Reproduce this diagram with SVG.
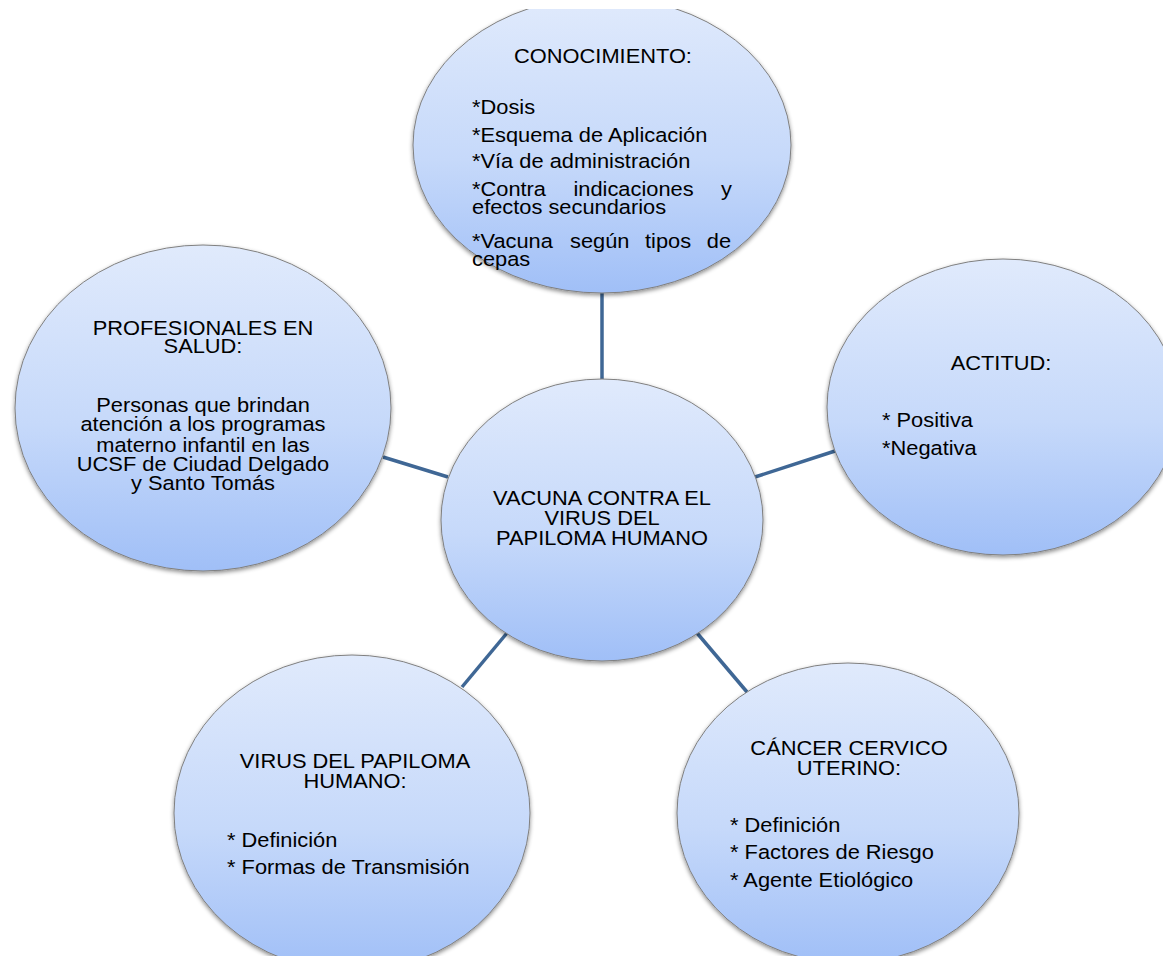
<svg xmlns="http://www.w3.org/2000/svg" width="1163" height="956" viewBox="0 0 1163 956">
  <defs>
    <linearGradient id="fillGrad" x1="0" y1="0" x2="0" y2="1">
      <stop offset="0" stop-color="#e0eafc"/>
      <stop offset="0.55" stop-color="#c6d9fa"/>
      <stop offset="1" stop-color="#a0bff7"/>
    </linearGradient>
    <filter id="shadow" x="-10%" y="-10%" width="120%" height="125%">
      <feDropShadow dx="0" dy="2" stdDeviation="2" flood-color="#000" flood-opacity="0.45"/>
    </filter>
    <clipPath id="topClip">
      <rect x="0" y="9" width="1163" height="947"/>
    </clipPath>
  </defs>
  <style>
    .bubble { fill: url(#fillGrad); stroke: #808080; stroke-width: 1; filter: url(#shadow); }
    .conn { stroke: #3f6795; stroke-width: 3.5; fill: none; stroke-linecap: butt; }
    text { font-family: "Liberation Sans", Arial, sans-serif; font-size: 19.5px; fill: #000; }
    .c { text-anchor: middle; }
  </style>
  <rect width="1163" height="956" fill="#ffffff"/>

  <g id="connectors">
    <line class="conn" x1="602" y1="292" x2="602" y2="380"/>
    <line class="conn" x1="383" y1="457" x2="448" y2="477"/>
    <line class="conn" x1="755" y1="477" x2="835" y2="451"/>
    <line class="conn" x1="507" y1="633" x2="462" y2="687"/>
    <line class="conn" x1="697" y1="633" x2="747" y2="692"/>
  </g>

  <g id="node-conocimiento">
    <g clip-path="url(#topClip)">
      <ellipse class="bubble" cx="602" cy="145" rx="189" ry="148"/>
    </g>
    <text class="c" transform="translate(603 63) scale(1.12 1)">CONOCIMIENTO:</text>
    <text transform="translate(472 114) scale(1.12 1)">*Dosis</text>
    <text transform="translate(472 142) scale(1.12 1)">*Esquema de Aplicación</text>
    <text transform="translate(472 168) scale(1.12 1)">*Vía de administración</text>
    <text transform="translate(472 196) scale(1.12 1)"><tspan x="0">*Contra</tspan><tspan x="90.6">indicaciones</tspan><tspan x="232.1" text-anchor="end">y</tspan></text>
    <text transform="translate(472 214) scale(1.12 1)">efectos secundarios</text>
    <text transform="translate(472 248) scale(1.12 1)"><tspan x="0">*Vacuna</tspan><tspan x="87.5">según</tspan><tspan x="154.5">tipos</tspan><tspan x="231.3" text-anchor="end">de</tspan></text>
    <text transform="translate(472 266) scale(1.12 1)">cepas</text>
  </g>

  <g id="node-profesionales">
    <ellipse class="bubble" cx="203" cy="408" rx="188" ry="163"/>
    <text class="c" transform="translate(203 335) scale(1.12 1)">PROFESIONALES EN</text>
    <text class="c" transform="translate(203 353) scale(1.12 1)">SALUD:</text>
    <text class="c" transform="translate(203 412) scale(1.12 1)">Personas que brindan</text>
    <text class="c" transform="translate(203 431) scale(1.12 1)">atención a los programas</text>
    <text class="c" transform="translate(203 452) scale(1.12 1)">materno infantil en las</text>
    <text class="c" transform="translate(203 471) scale(1.12 1)">UCSF de Ciudad Delgado</text>
    <text class="c" transform="translate(203 490) scale(1.12 1)">y Santo Tomás</text>
  </g>

  <g id="node-actitud">
    <ellipse class="bubble" cx="1003" cy="407" rx="176" ry="148"/>
    <text class="c" transform="translate(1001 370) scale(1.12 1)">ACTITUD:</text>
    <text transform="translate(882 427) scale(1.12 1)">* Positiva</text>
    <text transform="translate(882 455) scale(1.12 1)">*Negativa</text>
  </g>

  <g id="node-vacuna">
    <ellipse class="bubble" cx="602" cy="520" rx="161" ry="141"/>
    <text class="c" transform="translate(602 505) scale(1.12 1)">VACUNA CONTRA EL</text>
    <text class="c" transform="translate(602 525) scale(1.12 1)">VIRUS DEL</text>
    <text class="c" transform="translate(602 545) scale(1.12 1)">PAPILOMA HUMANO</text>
  </g>

  <g id="node-virus">
    <ellipse class="bubble" cx="352" cy="813" rx="178" ry="158"/>
    <text class="c" transform="translate(355 768) scale(1.12 1)">VIRUS DEL PAPILOMA</text>
    <text class="c" transform="translate(355 788) scale(1.12 1)">HUMANO:</text>
    <text transform="translate(227 847) scale(1.12 1)">* Definición</text>
    <text transform="translate(227 874) scale(1.12 1)">* Formas de Transmisión</text>
  </g>

  <g id="node-cancer">
    <ellipse class="bubble" cx="848" cy="813" rx="171" ry="150"/>
    <text class="c" transform="translate(849 755) scale(1.12 1)">CÁNCER CERVICO</text>
    <text class="c" transform="translate(849 775) scale(1.12 1)">UTERINO:</text>
    <text transform="translate(730 832) scale(1.12 1)">* Definición</text>
    <text transform="translate(730 859) scale(1.12 1)">* Factores de Riesgo</text>
    <text transform="translate(730 887) scale(1.12 1)">* Agente Etiológico</text>
  </g>
</svg>
